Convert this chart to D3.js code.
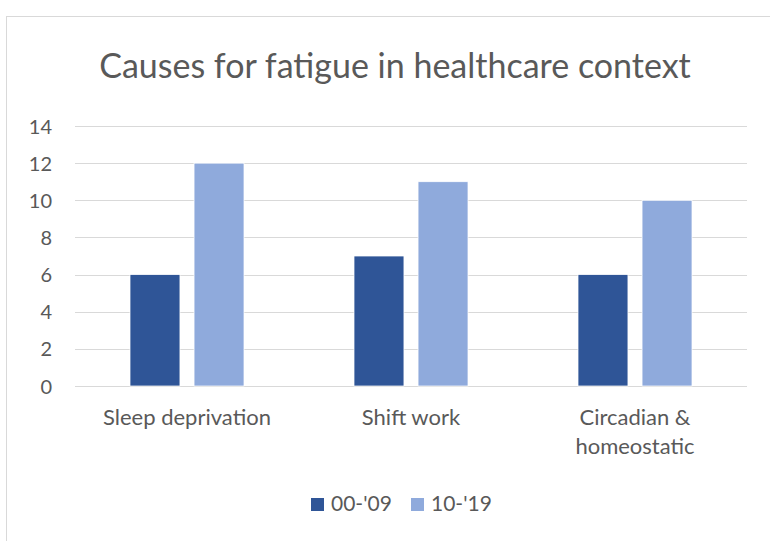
<!DOCTYPE html>
<html>
<head>
<meta charset="utf-8">
<script src="https://cdn.jsdelivr.net/npm/d3@7"></script>
<style>
  body { margin: 0; background: #fff; }
  text { font-family: Lato, "Open Sans", "Liberation Sans", sans-serif; fill: #595959; }
</style>
</head>
<body>
<div id="chart"></div>
<script>
// chart values
var categories = ["Sleep deprivation", "Shift work", "Circadian & homeostatic"];
var seriesNames = ["00-'09", "10-'19"];
var early = [6, 7, 6];
var late = [12, 11, 10];
var yTicks = [0, 2, 4, 6, 8, 10, 12, 14];

var colors = ["#2F5597", "#8FAADC"];
var W = 770, H = 541;
var plot = {left: 75, right: 747, top: 126, bottom: 386};

var svg = d3.select("#chart").append("svg")
  .attr("width", W).attr("height", H);

// outer chart frame
svg.append("rect")
  .attr("x", 6.5).attr("y", 16.5)
  .attr("width", 780).attr("height", 540)
  .attr("fill", "#fff").attr("stroke", "#d9d9d9");

svg.append("text")
  .attr("x", 395).attr("y", 78)
  .attr("text-anchor", "middle")
  .style("font-size", "34px")
  .text("Causes for fatigue in healthcare context");

var y = d3.scaleLinear().domain([0, 14]).range([plot.bottom, plot.top]);
var x0 = d3.scaleBand().domain(categories).range([plot.left, plot.right]);
var x1 = d3.scaleBand().domain(seriesNames).range([0, 114]).paddingInner(0.22);

// gridlines
svg.append("g").selectAll("line")
  .data(yTicks).enter().append("line")
  .attr("x1", plot.left).attr("x2", plot.right)
  .attr("y1", function(d) { return Math.round(y(d)) + 0.5; })
  .attr("y2", function(d) { return Math.round(y(d)) + 0.5; })
  .attr("stroke", "#d9d9d9").attr("stroke-width", 1);

// y axis labels
var yAxis = d3.axisLeft(y).tickValues(yTicks).tickSize(0).tickPadding(0);
var yg = svg.append("g").attr("transform", "translate(52,0)").call(yAxis);
yg.select(".domain").remove();
yg.selectAll("text")
  .attr("dy", "0.35em")
  .style("font-size", "20px").style("fill", "#595959")
  .style("font-family", "Lato, 'Open Sans', sans-serif");

// bars
var rows = categories.map(function(c, i) {
  return {cat: c, vals: [early[i], late[i]]};
});
var groups = svg.append("g").selectAll("g")
  .data(rows).enter().append("g")
  .attr("transform", function(d) {
    return "translate(" + (x0(d.cat) + (x0.bandwidth() - 114) / 2) + ",0)";
  });
groups.selectAll("rect")
  .data(function(d) { return d.vals.map(function(v, j) { return {s: seriesNames[j], v: v, j: j}; }); })
  .enter().append("rect")
  .attr("x", function(d) { return x1(d.s); })
  .attr("width", x1.bandwidth())
  .attr("y", function(d) { return y(d.v); })
  .attr("height", function(d) { return plot.bottom - y(d.v); })
  .attr("fill", function(d) { return colors[d.j]; })
  .attr("stroke", "#fff").attr("stroke-width", 0.75);

// category labels (wrap the long one)
var catLines = {
  "Sleep deprivation": ["Sleep deprivation"],
  "Shift work": ["Shift work"],
  "Circadian & homeostatic": ["Circadian &", "homeostatic"]
};
var xl = svg.append("g").selectAll("text")
  .data(categories).enter().append("text")
  .attr("x", function(d) { return x0(d) + x0.bandwidth() / 2; })
  .attr("y", 425)
  .attr("text-anchor", "middle")
  .style("font-size", "22px");
xl.each(function(d) {
  var t = d3.select(this);
  catLines[d].forEach(function(line, i) {
    t.append("tspan")
      .attr("x", x0(d) + x0.bandwidth() / 2)
      .attr("dy", i === 0 ? 0 : 29)
      .text(line);
  });
});

// legend
var legX = [311, 411];
var leg = svg.append("g").selectAll("g")
  .data(seriesNames).enter().append("g")
  .attr("transform", function(d, i) { return "translate(" + legX[i] + ",498)"; });
leg.append("rect")
  .attr("width", 13).attr("height", 13)
  .attr("fill", function(d, i) { return colors[i]; });
leg.append("text")
  .attr("x", 20).attr("y", 13)
  .style("font-size", "21px")
  .text(function(d) { return d; });
</script>
</body>
</html>
